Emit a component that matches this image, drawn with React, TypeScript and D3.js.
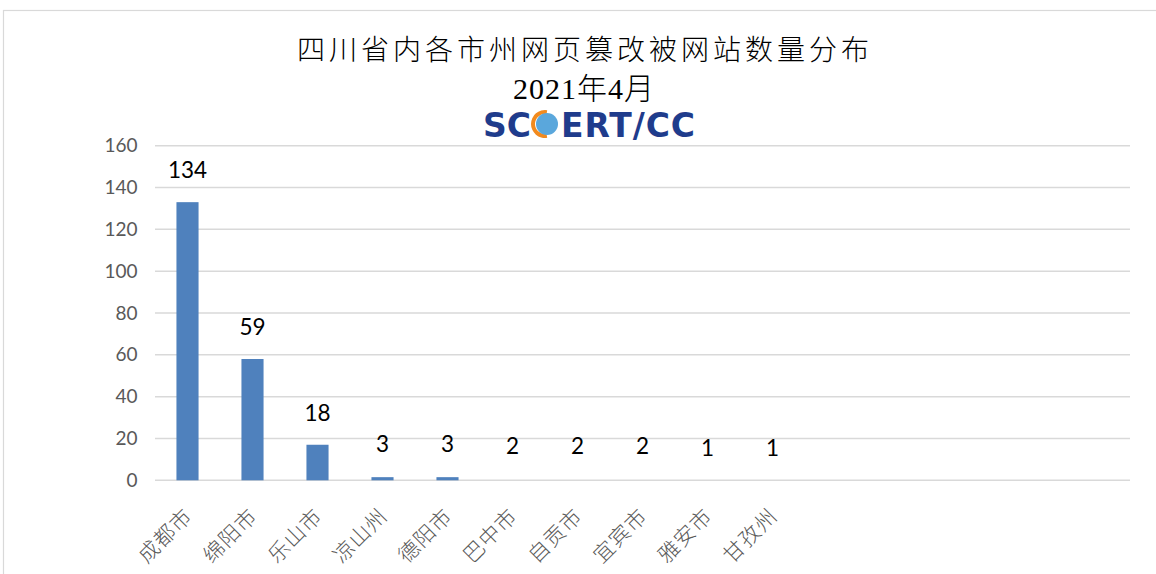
import React, { useEffect, useRef } from 'react';
import * as d3 from 'd3';

// categories (15 slots on the axis, the last 5 are empty)
const cities = ['成都市', '绵阳市', '乐山市', '凉山州', '德阳市', '巴中市', '自贡市', '宜宾市', '雅安市', '甘孜州', '', '', '', '', ''];
// bar heights as drawn in the picture
const barValues = [133, 58, 17, 1.5, 1.5, 0, 0, 0, 0, 0];
// data labels as printed above the bars
const dataLabels = [134, 59, 18, 3, 3, 2, 2, 2, 1, 1];
const yTicks = [0, 20, 40, 60, 80, 100, 120, 140, 160];

const titleLine1 = '四川省内各市州网页篡改被网站数量分布';
const titleLine2 = '2021年4月';

const App = () => {
  const ref = useRef<SVGSVGElement | null>(null);

  useEffect(() => {
    if (!ref.current) return;
    const svg = d3.select(ref.current);
    svg.selectAll('*').remove();

    const left = 155, right = 1130, top = 145.7, bottom = 480.3;

    // chart border
    svg.append('rect')
      .attr('x', 3.5).attr('y', 10.5)
      .attr('width', 1200).attr('height', 600)
      .attr('fill', '#fff')
      .attr('stroke', '#d9d9d9')
      .attr('stroke-width', 1.2);

    const x = d3.scaleBand<number>()
      .domain(cities.map((_, i) => i))
      .range([left, right])
      .padding(0);

    const y = d3.scaleLinear().domain([0, 160]).range([bottom, top]);

    // gridlines
    svg.append('g')
      .selectAll('line')
      .data(yTicks)
      .enter()
      .append('line')
      .attr('x1', left).attr('x2', right)
      .attr('y1', d => y(d)).attr('y2', d => y(d))
      .attr('stroke', '#d9d9d9')
      .attr('stroke-width', 1.5);

    // y tick labels
    svg.append('g')
      .selectAll('text')
      .data(yTicks)
      .enter()
      .append('text')
      .attr('x', 137.5)
      .attr('y', d => y(d))
      .attr('dy', '0.35em')
      .attr('text-anchor', 'end')
      .style('font-family', 'Lato, "Open Sans", sans-serif')
      .style('font-size', '19px')
      .attr('fill', '#595959')
      .text(d => d);

    // bars
    const barW = x.bandwidth() * 0.34;
    svg.append('g')
      .selectAll('rect')
      .data(barValues)
      .enter()
      .append('rect')
      .attr('x', (d, i) => x(i)! + x.bandwidth() / 2 - barW / 2)
      .attr('y', d => y(d))
      .attr('width', barW)
      .attr('height', d => bottom - y(d))
      .attr('fill', '#4f81bd');

    // data labels
    svg.append('g')
      .selectAll('text')
      .data(dataLabels)
      .enter()
      .append('text')
      .attr('x', (d, i) => x(i)! + x.bandwidth() / 2)
      .attr('y', d => y(d) - 22)
      .attr('text-anchor', 'middle')
      .style('font-family', 'Lato, "Open Sans", sans-serif')
      .style('font-size', '22.5px')
      .attr('fill', '#000')
      .text(d => d);

    // category labels, rotated
    svg.append('g')
      .selectAll('text')
      .data(cities)
      .enter()
      .append('text')
      .attr('transform', (d, i) => `translate(${x(i)! + x.bandwidth() / 2 + 1},${bottom + 32}) rotate(-45)`)
      .attr('text-anchor', 'end')
      .attr('dy', '0.35em')
      .style('font-family', '"Noto Sans CJK SC", sans-serif')
      .style('font-size', '21px')
      .style('font-weight', 300)
      .style('letter-spacing', '1px')
      .attr('fill', '#595959')
      .text(d => d);

    // title
    svg.append('text')
      .attr('x', 585).attr('y', 60)
      .attr('text-anchor', 'middle')
      .style('font-family', '"Liberation Serif", "Noto Sans CJK SC", serif')
      .style('font-size', '28px')
      .style('font-weight', 300)
      .style('letter-spacing', '4px')
      .attr('fill', '#000')
      .text(titleLine1);

    svg.append('text')
      .attr('x', 584).attr('y', 99)
      .attr('text-anchor', 'middle')
      .style('font-family', '"Liberation Serif", "Noto Sans CJK SC", serif')
      .style('font-size', '30px')
      .style('font-weight', 300)
      .style('letter-spacing', '1px')
      .attr('fill', '#000')
      .text(titleLine2);

    // logo
    const logo = svg.append('g');
    const logoFont = '"DejaVu Sans", sans-serif';
    logo.append('text')
      .attr('x', 483).attr('y', 137)
      .style('font-family', logoFont)
      .style('font-size', '33px')
      .style('font-weight', 'bold')
      .attr('fill', '#1f3c8c')
      .text('SC');
    const gx = 545, gy = 124;
    logo.append('path')
      .attr('d', d3.arc()({ innerRadius: 10, outerRadius: 14, startAngle: Math.PI * 0.95, endAngle: Math.PI * 2.05 }) as string)
      .attr('transform', `translate(${gx},${gy})`)
      .attr('fill', '#f28a1e');
    logo.append('circle')
      .attr('cx', gx + 2).attr('cy', gy)
      .attr('r', 11)
      .attr('fill', '#5aa7dc');
    logo.append('text')
      .attr('x', 561).attr('y', 137)
      .attr('textLength', 134)
      .style('font-family', logoFont)
      .style('font-size', '33px')
      .style('font-weight', 'bold')
      .attr('fill', '#1f3c8c')
      .text('ERT/CC');
  }, []);

  return (
    <svg
      ref={ref}
      width={1156}
      height={574}
      style={{ position: 'absolute', left: 0, top: 0, background: '#fff' }}
    />
  );
};

export default App;
